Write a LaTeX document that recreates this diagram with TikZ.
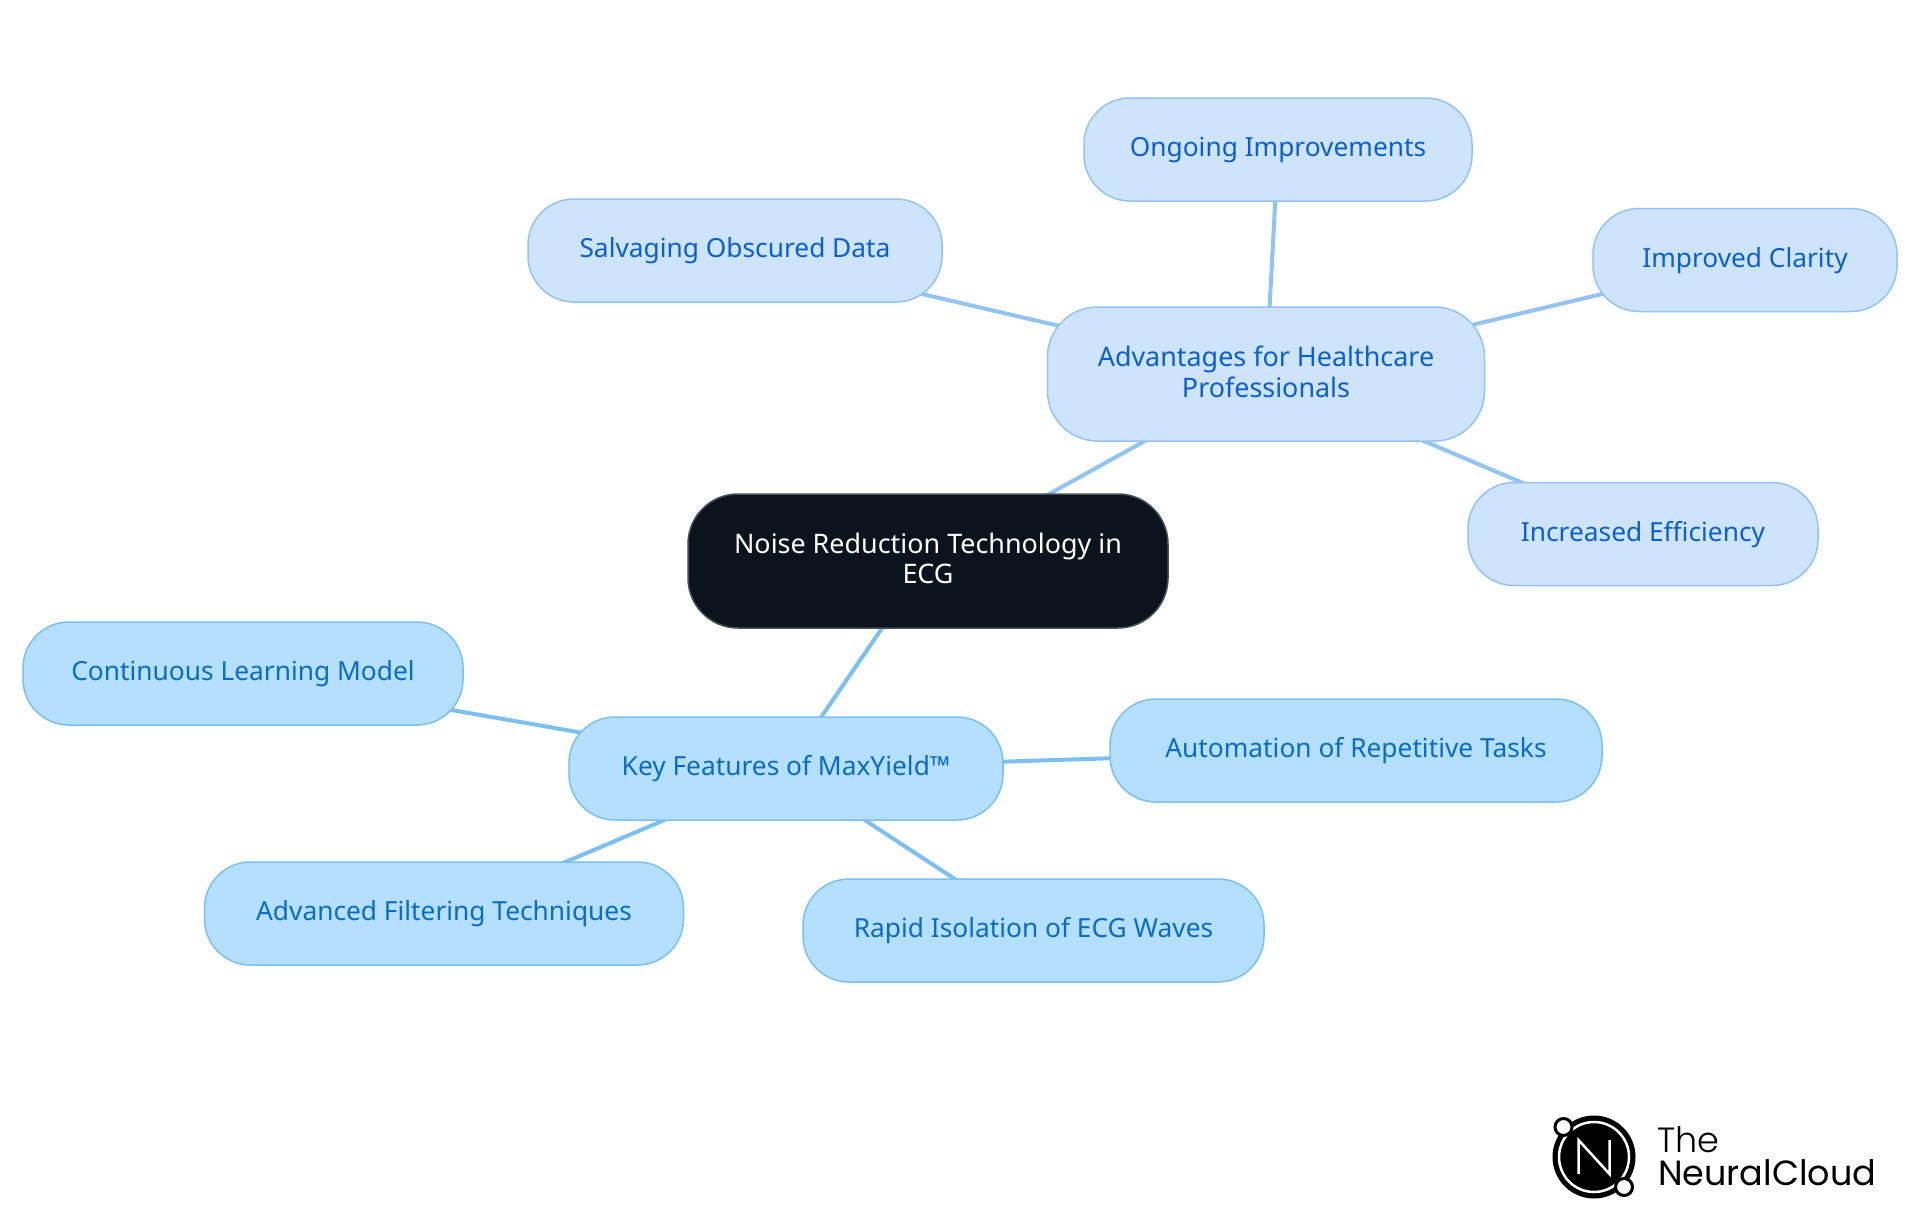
\documentclass[tikz,border=0pt]{standalone}
\usepackage{fontspec}
\setmainfont{Noto Sans}
\newfontfamily\logofont{Poppins}[UprightFont=* Light]
\newfontfamily\logofontb{Poppins}
\usetikzlibrary{backgrounds}
\definecolor{rootfill}{HTML}{0C131C}
\definecolor{rootline}{HTML}{4A4F55}
\definecolor{advfill}{HTML}{CEE4FD}
\definecolor{advline}{HTML}{93C3F3}
\definecolor{advtext}{HTML}{0B5FD0}
\definecolor{keyfill}{HTML}{B4DFFF}
\definecolor{keyline}{HTML}{7CBFF2}
\definecolor{keytext}{HTML}{0A6CC4}
\newcommand{\lift}{\rule[-5pt]{0pt}{0pt}}
\tikzset{
 x=1pt,y=-1pt,
 box/.style={rectangle,rounded corners=46pt,line width=1.5pt,font=\fontsize{26.3}{30.5}\selectfont,align=center,inner sep=0pt,anchor=center},
 oneline/.style={text height=21pt,text depth=7pt},
 twoline/.style={font=\fontsize{26.9}{30.5}\selectfont,minimum height=134pt,rounded corners=50pt},
 rootbox/.style={box,twoline,fill=rootfill,draw=rootline,text=white,minimum width=480pt},
 advbox/.style={box,fill=advfill,draw=advline,text=advtext,minimum height=103pt},
 keybox/.style={box,fill=keyfill,draw=keyline,text=keytext,minimum height=103pt},
 advedge/.style={draw=advline,line width=4pt},
 keyedge/.style={draw=keyline,line width=4pt},
 logotext/.style={anchor=base west,inner sep=0pt,text=black},
 logoring/.style={circle,fill=white,draw=black,line width=3pt,minimum size=17pt,inner sep=0pt}
}
\begin{document}
\begin{tikzpicture}
\useasboundingbox (0,0) rectangle (1920,1215);
\node[rootbox] (root) at (928,561) {Noise Reduction Technology in\\ECG\lift};
\node[advbox,twoline,minimum width=437pt] (adv) at (1266,374) {Advantages for Healthcare\\Professionals\lift};
\node[advbox,oneline,minimum width=388pt] (ongoing) at (1278,149.5) {Ongoing Improvements};
\node[advbox,oneline,minimum width=414pt] (salv) at (735,250.5) {Salvaging Obscured Data};
\node[advbox,oneline,minimum width=304pt] (clarity) at (1745,260) {Improved Clarity};
\node[advbox,oneline,minimum width=350pt] (eff) at (1643,534) {Increased Efficiency};
\node[keybox,oneline,minimum width=434pt] (key) at (786,768.5) {Key Features of MaxYield™};
\node[keybox,oneline,minimum width=440pt] (cont) at (243,673.5) {Continuous Learning Model};
\node[keybox,oneline,minimum width=492pt] (auto) at (1356,750.5) {Automation of Repetitive Tasks};
\node[keybox,oneline,minimum width=479pt] (filt) at (444,913.5) {Advanced Filtering Techniques};
\node[keybox,oneline,minimum width=461pt] (rapid) at (1033.5,930.5) {Rapid Isolation of ECG Waves};
\begin{scope}[on background layer]
\draw[advedge] (root.center) -- (adv.center);
\draw[advedge] (adv.center) -- (ongoing.center);
\draw[advedge] (adv.center) -- (salv.center);
\draw[advedge] (adv.center) -- (clarity.center);
\draw[advedge] (adv.center) -- (eff.center);
\draw[keyedge] (root.center) -- (key.center);
\draw[keyedge] (key.center) -- (cont.center);
\draw[keyedge] (key.center) -- (auto.center);
\draw[keyedge] (key.center) -- (filt.center);
\draw[keyedge] (key.center) -- (rapid.center);
\end{scope}
% logo
\fill[black] (1594,1157) circle (41.5pt);
\draw[white,line width=2.5pt] (1594,1157) circle (35pt);
\draw[white,line width=2.5pt,line join=miter] (1578.5,1174) -- (1578.5,1140) -- (1609.5,1174) -- (1609.5,1140);
\node[logoring] (ringa) at (1563.5,1127) {};
\node[logoring] (ringb) at (1624,1187) {};
\node[logotext,font=\logofont\fontsize{35}{35}\selectfont] (lthe) at (1657,1152) {The};
\node[logotext,font=\logofontb\fontsize{35}{35}\selectfont] (lnc) at (1658,1185) {NeuralCloud};
\end{tikzpicture}
\end{document}
